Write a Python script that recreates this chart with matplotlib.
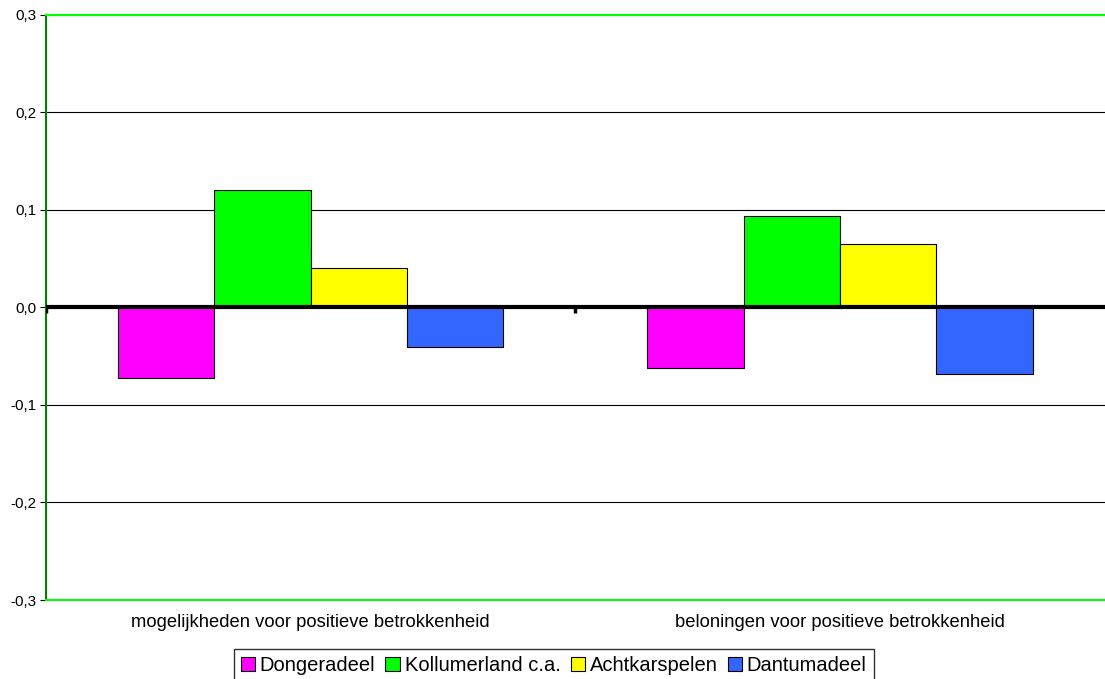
import numpy as np
import matplotlib.pyplot as plt

plt.rcParams['font.family'] = ['Liberation Sans', 'DejaVu Sans']

categories = ["mogelijkheden voor positieve betrokkenheid",
              "beloningen voor positieve betrokkenheid"]
series = ["Dongeradeel", "Kollumerland c.a.", "Achtkarspelen", "Dantumadeel"]
dongeradeel = [-0.072, -0.062]
kollumerland = [0.120, 0.094]
achtkarspelen = [0.040, 0.065]
dantumadeel = [-0.041, -0.068]
colors = ["#FF00FF", "#00FF00", "#FFFF00", "#3366FF"]
yticks = [-0.3, -0.2, -0.1, 0.0, 0.1, 0.2, 0.3]

values = [dongeradeel, kollumerland, achtkarspelen, dantumadeel]

fig = plt.figure(figsize=(11.05, 6.79), dpi=100)
ax = fig.add_axes([0.0416, 0.1163, 0.958, 0.862])

x = np.arange(len(categories))
w = 0.182
for i, (vals, c, name) in enumerate(zip(values, colors, series)):
    ax.bar(x + (i - 1.5) * w, vals, width=w, color=c, edgecolor="black",
           linewidth=0.8, label=name, zorder=3)

ax.set_xlim(-0.5, 1.5)
ax.set_ylim(-0.3, 0.3)
ax.set_yticks(yticks)
ax.set_yticklabels([("%.1f" % t).replace(".", ",") for t in yticks], fontsize=11)
ax.yaxis.grid(True, color="black", linewidth=0.8, zorder=0)
ax.axhline(0, color="black", linewidth=3, zorder=4)
# small category ticks on the zero line
ax.vlines([-0.5, 0.5], -0.006, 0, color="black", linewidth=2.5, zorder=4)

ax.set_xticks(x)
ax.set_xticklabels(categories, fontsize=13.2)
ax.tick_params(axis="x", length=0, pad=10)
ax.tick_params(axis="y", length=4, width=0.8, pad=3)

ax.spines["left"].set_color("#008000")
ax.spines["left"].set_linewidth(1.5)
ax.spines["top"].set_color("#00FF00")
ax.spines["top"].set_linewidth(1.5)
ax.spines["bottom"].set_color("#00FF00")
ax.spines["bottom"].set_linewidth(1.5)
ax.spines["right"].set_visible(False)

leg = fig.legend(loc="lower center", bbox_to_anchor=(0.501, -0.004), ncol=4,
                 fontsize=14.5, frameon=True, fancybox=False, handlelength=0.7,
                 handleheight=0.7, handletextpad=0.25, columnspacing=0.5,
                 borderpad=0.35, borderaxespad=0)
leg.get_frame().set_edgecolor("black")
leg.get_frame().set_linewidth(1)

fig.savefig("out.png", dpi=100)
